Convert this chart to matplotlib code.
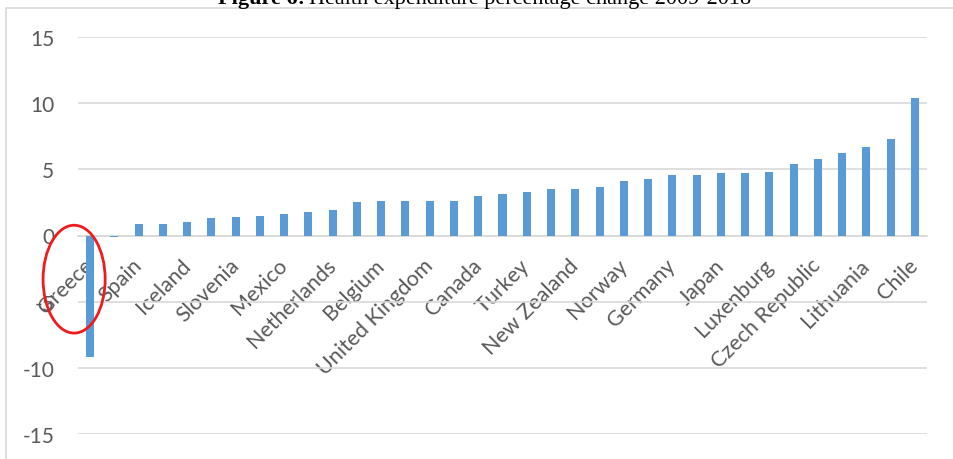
import matplotlib.pyplot as plt
from matplotlib.patches import Ellipse, Rectangle

# values (35 countries, every other one labelled)
values = [-9.2, -0.1, 0.9, 0.9, 1.0, 1.3, 1.4, 1.5, 1.6, 1.8, 1.9, 2.5,
          2.6, 2.6, 2.6, 2.6, 3.0, 3.1, 3.3, 3.5, 3.5, 3.7, 4.1, 4.3,
          4.6, 4.6, 4.7, 4.7, 4.8, 5.4, 5.8, 6.2, 6.7, 7.3, 10.4]
labels = ['Greece', 'Spain', 'Iceland', 'Slovenia', 'Mexico', 'Netherlands',
          'Belgium', 'United Kingdom', 'Canada', 'Turkey', 'New Zealand',
          'Norway', 'Germany', 'Japan', 'Luxenburg', 'Czech Republic',
          'Lithuania', 'Chile']
yticks = [-15, -10, -5, 0, 5, 10, 15]

plt.rcParams['font.family'] = ['Lato', 'DejaVu Sans']

fig = plt.figure(figsize=(9.54, 4.6), dpi=100)
ax = fig.add_axes([78 / 954, 1 - 435 / 460, 849 / 954, 397 / 460])

x = list(range(len(values)))
ax.bar(x, values, width=0.33, color='#5b9bd5', zorder=3)

# axis line at zero (set before the tick labels, it resets the ticks)
for s in ['top', 'right', 'left']:
    ax.spines[s].set_visible(False)
ax.spines['bottom'].set_position(('data', 0))
ax.spines['bottom'].set_color('#d9d9d9')
ax.spines['bottom'].set_linewidth(1.2)

ax.set_xlim(-0.5, len(values) - 0.5)
ax.set_ylim(-15, 15)
ax.set_yticks(yticks)
ax.set_yticklabels([str(v) for v in yticks])
ax.tick_params(axis='y', length=0, pad=17, labelsize=15, labelcolor='#595959')
ax.grid(axis='y', color='#d9d9d9', linewidth=1.2, zorder=0)

ax.set_xticks(x[::2])
ax.set_xticklabels(labels, rotation=45, ha='right', va='center',
                   rotation_mode='anchor')
ax.tick_params(axis='x', length=0, pad=19, labelsize=15.5, labelcolor='#595959')

# red circle around Greece
ax.add_patch(Ellipse((-0.66, -3.3), 2.56, 8.15, fill=False, edgecolor='#ee1c1c',
                     linewidth=2, clip_on=False, zorder=5))

# chart frame
fig.add_artist(Rectangle((6 / 954, -0.1), 1.2, 1.1 - 8.5 / 460, fill=False,
                         edgecolor='#d9d9d9', linewidth=1.2,
                         transform=fig.transFigure))

# title, cut off at the top like in the source
fig.text(305 / 954, 1 - 4 / 460, 'Figure 6:', ha='right', va='baseline',
         fontsize=16, fontweight='bold', family='Liberation Serif')
fig.text(309 / 954, 1 - 4 / 460, 'Health expenditure percentage change 2009-2018',
         ha='left', va='baseline', fontsize=16, family='Liberation Serif')

fig.savefig('out.png', dpi=100)
